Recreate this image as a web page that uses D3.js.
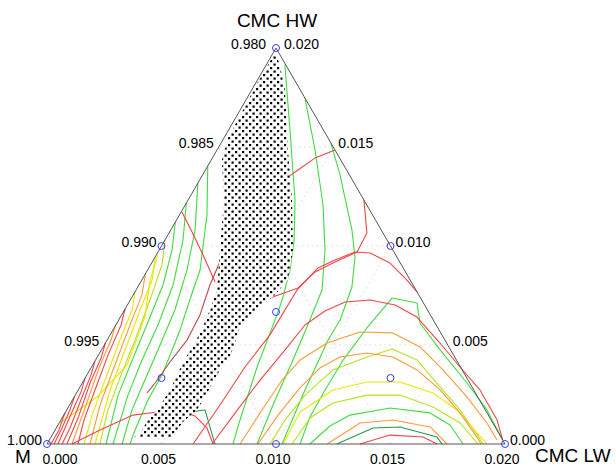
<!DOCTYPE html>
<html><head><meta charset="utf-8">
<script src="https://cdn.jsdelivr.net/npm/d3@7"></script>
<style>body{margin:0;background:#fff}</style>
</head><body>
<svg id="chart" width="616" height="467"></svg>
<script>
// Composition points are [CMC LW, CMC HW] in units of 1e-3; M = 1 - LW - HW.
const axisTitles = ["M", "CMC LW", "CMC HW"];
const mTickLabels = ["1.000", "0.995", "0.990", "0.985", "0.980"];
const hwTickLabels = ["0.000", "0.005", "0.010", "0.015", "0.020"];
const lwTickLabels = ["0.000", "0.005", "0.010", "0.015", "0.020"];
const tickValues = [0, 5, 10, 15, 20];
const gridValues = [5, 10, 15];

const designPoints = [[0,0],[20,0],[0,20],[10,0],[0,10],[10,10],[6.667,6.667],[3.333,3.333],[13.333,3.333],[3.333,13.333]];

const dottedRegion = [[0.06,19.80],[0.60,19.14],[1.45,17.88],[3.10,14.85],[4.54,12.32],[5.84,9.80],[6.38,8.28],[6.19,7.53],[5.84,6.92],[5.47,5.91],[5.80,4.39],[5.68,3.74],[5.70,2.58],[5.69,1.72],[5.38,1.11],[5.28,0.35],[3.61,0.30],[3.78,0.56],[3.82,1.36],[3.94,1.72],[4.01,2.73],[3.89,4.09],[3.88,5.61],[3.73,6.77],[3.53,7.78],[2.65,9.80],[1.57,12.32],[0.47,14.34],[0.18,15.45],[0.13,16.77],[0.07,18.28],[0.08,19.49]];

const greenLines = [
  [[0.82,19.14],[2.68,15.86],[4.67,12.32],[5.64,10.30],[6.22,8.79],[6.63,7.27],[6.78,6.52],[7.23,3.89],[7.82,1.21],[8.12,0]],
  [[2.53,17.47],[4.28,14.85],[6.02,12.07],[7.24,9.80],[8.12,7.78],[8.35,6.26],[8.62,4.24],[8.85,2.22],[9.17,0]],
  [[4.80,15.20],[6.00,13.59],[7.91,10.81],[8.73,9.44],[9.35,7.93],[9.67,6.26],[9.65,5.25],[9.90,2.73],[10.26,0]],
  [[11.05,0],[10.80,1.36],[10.78,2.73],[10.81,4.24],[11.04,5.86],[11.38,7.37],[12.60,7.12],[13.23,6.11],[14.79,4.75],[16.80,3.08],[18.35,1.72],[19.80,0.20]],
  [[0,14.04],[1.20,11.57],[2.29,8.79],[2.49,7.78],[2.93,5.76],[3.27,3.59],[3.30,2.22],[3.49,0.71],[3.62,0]],
  [[0,13.18],[1.06,10.81],[1.72,8.79],[2.20,6.77],[2.47,4.75],[2.66,3.23],[2.85,1.72],[3.28,0]],
  [[0,12.17],[0.79,10.30],[1.49,8.03],[1.84,6.01],[2.03,4.24],[2.30,2.47],[2.88,0]],
  [[0,11.21],[0.56,9.80],[1.05,8.03],[1.33,6.16],[1.59,4.34],[1.87,2.47],[2.58,0]],
  [[11.48,0],[11.90,0.91],[12.50,1.46],[14.07,1.82],[15.94,1.57],[17.12,0.96],[18.17,0]]
];
const darkGreenLines = [
  [[5.15,1.57],[6.04,1.72],[7.07,0.35],[7.34,0]],
  [[12.66,0],[13.83,0.81],[14.99,0.86],[16.86,0.35],[17.25,0]]
];
const yellowGreenLines = [
  [[0,10.30],[0.50,9.04],[0.86,7.27],[1.22,5.25],[1.52,3.33],[1.80,1.72],[2.31,0]],
  [[9.74,0],[9.79,1.21],[10.03,2.47],[10.62,3.74],[11.78,4.39],[12.67,4.80],[14.04,4.24],[15.72,2.88],[17.18,1.72],[18.62,0.40],[19.04,0]],
  [[10.70,0],[10.83,1.31],[11.45,2.07],[12.74,2.47],[14.18,2.47],[15.92,1.87],[17.51,1.06],[18.82,0]]
];
const yellowLines = [
  [[0,9.44],[0.45,8.28],[0.68,6.77],[1.03,4.75],[1.39,2.73],[2.10,0]],
  [[0,7.68],[0.33,6.77],[0.56,5.25],[0.92,3.23],[1.24,1.46],[1.62,0]],
  [[0.04,1.06],[1.00,2.37],[1.50,3.99],[1.07,6.41],[0.36,8.28],[0.07,9.55]],
  [[10.31,0],[10.24,1.62],[11.12,2.73],[12.41,3.13],[13.85,3.13],[15.57,2.58],[17.04,1.72],[18.50,0.56],[19.21,0]]
];
const orangeLines = [
  [[0,8.59],[0.38,7.53],[0.62,6.01],[0.97,3.99],[1.33,1.97],[1.88,0]],
  [[0,5.96],[0.17,5.25],[0.35,3.84],[0.72,1.97],[1.09,0]],
  [[8.43,0],[8.53,1.72],[8.65,3.23],[8.93,4.24],[9.68,5.10],[10.84,5.66],[12.30,5.61],[13.84,4.90],[15.42,3.74],[17.16,2.37],[18.68,1.06],[19.55,0.20]],
  [[9.21,0],[9.36,1.46],[9.63,2.83],[10.00,3.84],[10.60,4.39],[11.67,4.60],[12.91,4.39],[14.29,3.74],[15.80,2.73],[17.25,1.57],[18.60,0.35],[18.95,0]],
  [[12.23,0],[13.14,1.06],[14.50,1.21],[16.30,0.86],[17.47,0]]
];
const redLines = [
  [[3.78,13.48],[4.04,13.84],[4.48,14.44],[5.15,14.85]],
  [[6.38,0],[6.57,1.97],[6.70,3.89],[6.98,5.51],[7.03,7.78],[7.39,8.89],[7.93,9.29],[8.60,9.70],[9.28,9.65],[10.41,9.14],[11.58,8.28],[12.32,7.68]],
  [[7.68,12.32],[8.64,10.66],[8.69,9.70],[7.98,9.19],[7.36,8.69],[7.02,7.88],[6.05,7.37],[5.28,7.17]],
  [[0.03,11.72],[0.98,10.71],[2.04,9.55],[3.25,8.18]],
  [[7.21,0],[7.44,1.62],[7.69,3.23],[8.02,4.75],[8.26,6.01],[8.78,6.72],[9.43,7.17],[10.47,7.27],[11.69,7.02],[12.95,6.41],[14.61,5.10],[16.09,3.89],[17.54,2.73],[19.05,1.21],[19.80,0.20]],
  [[0,6.82],[0.23,6.01],[0.42,4.49],[0.73,2.73],[1.01,1.21],[1.35,0]],
  [[0,5.10],[0.19,4.34],[0.34,3.08],[0.70,1.31],[0.87,0]],
  [[0,4.19],[0.18,3.48],[0.37,2.22],[0.60,0.81],[0.66,0]],
  [[0,3.33],[0.17,2.63],[0.28,1.62],[0.48,0]],
  [[0,2.42],[0.14,1.72],[0.25,0.81],[0.31,0]],
  [[0,1.57],[0.17,0.71],[0.17,0]],
  [[1.09,0],[1.96,0.71],[3.03,1.46],[3.99,1.62],[5.13,1.62],[5.76,1.41],[6.58,0.81],[7.25,0]],
  [[13.67,0],[14.75,0.45],[16.24,0.35],[17.03,0]]
];
const darkRedLines = [
  [[2.92,9.44],[3.10,8.03],[3.42,6.52],[3.49,5.25],[3.30,4.14],[3.18,3.08],[3.08,2.58]]
];

const svg = d3.select("#chart");
const x = d3.scaleLinear().domain([0, 20]).range([47, 505]);
const y = d3.scaleLinear().domain([0, 20]).range([444, 48]);
const px = p => [x(p[0] + p[1] / 2), y(p[1])];
const line = d3.line().x(p => px(p)[0]).y(p => px(p)[1]);

// dot pattern
const defs = svg.append("defs");
const pat = defs.append("pattern").attr("id", "dots").attr("patternUnits", "userSpaceOnUse")
  .attr("width", 7).attr("height", 7);
pat.append("rect").attr("x", 0.5).attr("y", 0.5).attr("width", 2.2).attr("height", 2.2).attr("fill", "#000");
pat.append("rect").attr("x", 4).attr("y", 4).attr("width", 2.2).attr("height", 2.2).attr("fill", "#000");

// grid
const grid = svg.append("g").attr("stroke", "#d6d6d6").attr("stroke-width", 0.8).attr("stroke-dasharray", "2,3").attr("fill", "none");
gridValues.forEach(v => {
  grid.append("path").attr("d", line([[v, 0], [v, 20 - v]]));
  grid.append("path").attr("d", line([[0, v], [20 - v, v]]));
  grid.append("path").attr("d", line([[v, 0], [0, v]]));
});

// contour lines
const groups = [
  [greenLines, "#3fdc3f"],
  [darkGreenLines, "#2c9650"],
  [yellowGreenLines, "#b4e31e"],
  [yellowLines, "#e8e800"],
  [orangeLines, "#ff9a3a"],
  [redLines, "#f24646"],
  [darkRedLines, "#b84848"]
];
const cg = svg.append("g").attr("fill", "none").attr("stroke-width", 1.1);
groups.forEach(([set, col]) => {
  cg.selectAll(null).data(set).enter().append("path")
    .attr("d", d => line(d)).attr("stroke", col).attr("stroke-linejoin", "round");
});

// design points
svg.append("g").selectAll("circle").data(designPoints).enter().append("circle")
  .attr("cx", d => px(d)[0]).attr("cy", d => px(d)[1]).attr("r", 3.5)
  .attr("fill", "none").attr("stroke", "#3a3aff").attr("stroke-width", 1);

// dotted region
const regionPath = line(dottedRegion) + "Z";
svg.append("path").attr("d", regionPath).attr("fill", "#fff");
svg.append("path").attr("d", regionPath).attr("fill", "url(#dots)");

// triangle edges
svg.append("path").attr("d", line([[0, 0], [20, 0], [0, 20]]) + "Z")
  .attr("fill", "none").attr("stroke", "#555").attr("stroke-width", 1);

// labels
const font = "Liberation Sans, Arial, Helvetica, sans-serif";
const lab = svg.append("g").attr("font-family", font).attr("font-size", "14px").attr("fill", "#000");
mTickLabels.forEach((t, i) => {
  const p = px([0, tickValues[i]]);
  lab.append("text").attr("x", p[0] - (i === 4 ? 10 : 5)).attr("y", p[1] + 1).attr("text-anchor", "end").text(t);
});
hwTickLabels.forEach((t, i) => {
  const p = px([20 - tickValues[i], tickValues[i]]);
  lab.append("text").attr("x", p[0] + (i === 4 ? 8 : 5)).attr("y", p[1] + 1).attr("text-anchor", "start").text(t);
});
lwTickLabels.forEach((t, i) => {
  const p = px([tickValues[i], 0]);
  lab.append("text").attr("x", p[0] + (i === 0 ? 13 : -3)).attr("y", 464).attr("text-anchor", "middle").text(t);
});

const tt = svg.append("g").attr("font-family", font).attr("font-size", "19px").attr("fill", "#000");
const vM = px([0, 0]), vLW = px([20, 0]), vHW = px([0, 20]);
tt.append("text").attr("x", vM[0] - 32).attr("y", vM[1] + 19).text(axisTitles[0]);
tt.append("text").attr("x", vLW[0] + 30).attr("y", vLW[1] + 18).text(axisTitles[1]);
tt.append("text").attr("x", vHW[0] + 1).attr("y", vHW[1] - 21).attr("text-anchor", "middle").text(axisTitles[2]);
</script>
</body></html>
